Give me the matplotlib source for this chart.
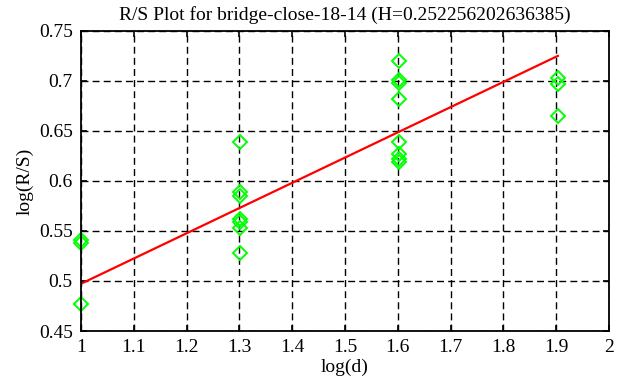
import numpy as np
import matplotlib
matplotlib.use('Agg')
import matplotlib.pyplot as plt

# R/S values, grouped by window size d
d_vals = [10, 10, 10,
          20, 20, 20, 20, 20, 20, 20,
          40, 40, 40, 40, 40, 40, 40, 40,
          80, 80, 80]
rs_log = [0.541, 0.538, 0.477,
          0.639, 0.589, 0.585, 0.562, 0.559, 0.553, 0.528,
          0.720, 0.701, 0.698, 0.682, 0.639, 0.627, 0.622, 0.619,
          0.703, 0.697, 0.665]

H = 0.252256202636385
intercept = 0.2450
name = 'bridge-close-18-14'

plt.rcParams['font.family'] = 'Liberation Serif'
plt.rcParams['font.size'] = 14

fig = plt.figure(figsize=(6.17, 3.87), dpi=100)
ax = fig.add_axes([0.1313, 0.1447, 0.8557, 0.7753])

logd = np.log10(d_vals)
# markers sit under the spines but are not clipped by them
ax.plot(logd, rs_log, 'D', mfc='none', mec='#00ff00', ms=7, mew=1.4,
        zorder=2.2, clip_on=False)

xl = np.array([logd.min(), logd.max()])
ax.plot(xl, intercept + H * xl, '-', color='#ff0000', lw=1.6, zorder=2.3)

ax.set_xlim(1, 2)
ax.set_ylim(0.45, 0.75)
ax.set_xticks(np.arange(1, 2.01, 0.1))
ax.set_xticklabels(['1', '1.1', '1.2', '1.3', '1.4', '1.5', '1.6', '1.7', '1.8', '1.9', '2'])
ax.set_yticks(np.arange(0.45, 0.751, 0.05))
ax.set_yticklabels(['0.45', '0.5', '0.55', '0.6', '0.65', '0.7', '0.75'])
ax.grid(True, color='black', linestyle=(0, (5, 3)), linewidth=1.0)
ax.tick_params(direction='in', length=4, width=1.2, top=True, right=True, pad=6)
for s in ax.spines.values():
    s.set_linewidth(1.3)

ax.set_xlabel('log(d)', labelpad=2)
ax.set_ylabel('log(R/S)', labelpad=4)
ax.set_title('R/S Plot for %s (H=%s)' % (name, repr(H)), fontsize=14, pad=8)

fig.savefig('out.png', dpi=100)
